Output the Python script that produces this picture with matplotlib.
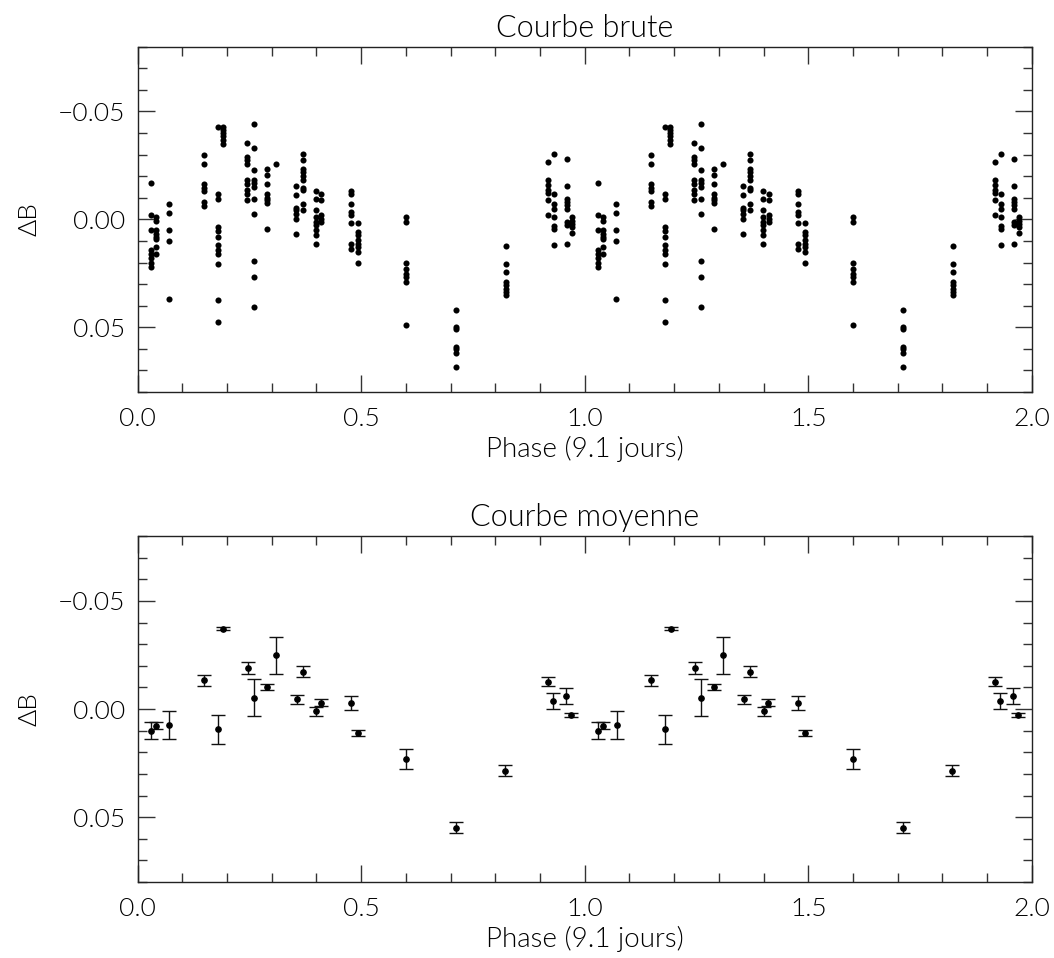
import numpy as np
import matplotlib
matplotlib.use("Agg")
import matplotlib.pyplot as plt
from matplotlib.ticker import MultipleLocator, FixedFormatter, FixedLocator

# ---------------- raw data (one phase cycle, repeated at +1) ----------------
raw_phase = [0.030, 0.040, 0.070, 0.149, 0.180, 0.190, 0.245, 0.261, 0.289, 0.309,
             0.355, 0.369, 0.399, 0.411, 0.478, 0.493, 0.600, 0.711, 0.823,
             0.917, 0.931, 0.960, 0.971]
raw_dB = [
    [-0.017, -0.002, 0.005, 0.014, 0.016, 0.018, 0.020, 0.022],
    [-0.001, 0.001, 0.005, 0.007, 0.008, 0.009, 0.013, 0.016],
    [-0.007, -0.003, 0.005, 0.010, 0.037],
    [-0.0296, -0.0258, -0.0165, -0.0147, -0.0131, -0.0080, -0.0060],
    [-0.0427, -0.0119, -0.0096, 0.0036, 0.0054, 0.0082, 0.0120, 0.0140, 0.0162, 0.0208, 0.0372, 0.0475],
    [-0.0427, -0.0415, -0.0400, -0.0384, -0.0369, -0.0347],
    [-0.0355, -0.0289, -0.0273, -0.0258, -0.0181, -0.0165, -0.0134, -0.0119, -0.0091],
    [-0.0440, -0.0330, -0.0227, -0.0184, -0.0168, -0.0150, -0.0096, -0.0023, 0.0193, 0.0267, 0.0406],
    [-0.0235, -0.0204, -0.0165, -0.0116, -0.0100, -0.0088, -0.0076, 0.0043],
    [-0.0258],
    [-0.0153, -0.0111, -0.0052, -0.0042, -0.0026, 0.0000, 0.0069],
    [-0.0301, -0.0276, -0.0235, -0.0219, -0.0199, -0.0181, -0.0147, -0.0134, -0.0069, -0.0042],
    [-0.0130, -0.0096, -0.0042, -0.0011, 0.0012, 0.0028, 0.0048, 0.0074, 0.0113],
    [-0.0116, -0.0088, -0.0019, -0.0003, 0.0012],
    [-0.0131, -0.0116, -0.0069, -0.0034, -0.0019, 0.0015, 0.0113, 0.0136],
    [0.0015, 0.0059, 0.0074, 0.0094, 0.0113, 0.0128, 0.0151, 0.0202],
    [-0.0011, 0.0012, 0.0201, 0.0228, 0.0252, 0.0267, 0.0290, 0.0488],
    [0.0418, 0.0499, 0.0506, 0.0591, 0.0603, 0.0619, 0.0684],
    [0.0125, 0.0205, 0.0245, 0.0290, 0.0306, 0.0321, 0.0337, 0.0352],
    [-0.0265, -0.0184, -0.0157, -0.0137, -0.0122, -0.0088, -0.0019],
    [-0.0301, -0.0116, -0.0073, -0.0050, -0.0011, 0.0032, 0.0043, 0.0117],
    [-0.0278, -0.0153, -0.0096, -0.0080, -0.0065, -0.0050, 0.0012, 0.0028, 0.0113],
    [-0.0011, 0.0008, 0.0023, 0.0036, 0.0063],
]

# ---------------- mean curve ----------------
mean_phase = [0.030, 0.040, 0.071, 0.149, 0.180, 0.192, 0.247, 0.261, 0.290, 0.309,
              0.357, 0.369, 0.400, 0.410, 0.478, 0.493, 0.600, 0.711, 0.822,
              0.917, 0.929, 0.957, 0.970]
mean_dB = [0.0100, 0.0077, 0.0074, -0.0133, 0.0094, -0.0372, -0.0188, -0.0052, -0.0102, -0.0248,
           -0.0045, -0.0173, 0.0011, -0.0029, -0.0028, 0.0110, 0.0231, 0.0548, 0.0286,
           -0.0127, -0.0037, -0.0059, 0.0028]
mean_err = [0.0039, 0.0017, 0.0066, 0.0026, 0.0067, 0.0008, 0.0028, 0.0086, 0.0015, 0.0086,
            0.0022, 0.0027, 0.0021, 0.0017, 0.0031, 0.0015, 0.0046, 0.0025, 0.0025,
            0.0020, 0.0035, 0.0036, 0.0011]

titles = ["Courbe brute", "Courbe moyenne"]
xlabel = "Phase (9.1 jours)"
ylabel = "ΔB"

# flatten raw columns and repeat the cycle
px = np.concatenate([[p] * len(v) for p, v in zip(raw_phase, raw_dB)])
py = np.concatenate(raw_dB)
px = np.concatenate([px, px + 1.0])
py = np.concatenate([py, py])

mx = np.array(mean_phase)
mx = np.concatenate([mx, mx + 1.0])
my = np.concatenate([mean_dB, mean_dB])
me = np.concatenate([mean_err, mean_err])

plt.rcParams['font.family'] = ['Lato', 'DejaVu Sans']
plt.rcParams['font.weight'] = 300
plt.rcParams['axes.titleweight'] = 300
plt.rcParams['axes.labelweight'] = 300
fig = plt.figure(figsize=(10.54, 9.58), dpi=100)
ax1 = fig.add_axes([0.1306, 0.5908, 0.8484, 0.3605])
ax2 = fig.add_axes([0.1306, 0.0793, 0.8484, 0.3612])

ax1.plot(px, py, 'o', color='black', markersize=4.4, markeredgewidth=0)
ax2.errorbar(mx, my, yerr=me, fmt='o', color='black', markersize=3.8,
             markeredgewidth=1.0, ecolor='#111111', elinewidth=1.0, capsize=5, capthick=1.0)

for ax, t in zip([ax1, ax2], titles):
    ax.set_xlim(0, 2.0)
    ax.set_ylim(0.08, -0.08)
    ax.xaxis.set_major_locator(FixedLocator([0.0, 0.5, 1.0, 1.5, 2.0]))
    ax.xaxis.set_major_formatter(FixedFormatter(["0.0", "0.5", "1.0", "1.5", "2.0"]))
    ax.xaxis.set_minor_locator(MultipleLocator(0.1))
    ax.yaxis.set_major_locator(FixedLocator([-0.05, 0.0, 0.05]))
    ax.yaxis.set_major_formatter(FixedFormatter(["\u22120.05", "0.00", "0.05"]))
    ax.yaxis.set_minor_locator(MultipleLocator(0.01))
    ax.tick_params(which='both', direction='in', top=True, right=True, width=1.0,
                   color='#333333', labelsize=19)
    ax.tick_params(axis='x', pad=11)
    ax.tick_params(axis='y', pad=9)
    ax.tick_params(which='major', length=12.5)
    ax.tick_params(which='minor', length=6.5)
    for s in ax.spines.values():
        s.set_linewidth(1.0)
        s.set_color('#222222')
    ax.set_title(t, fontsize=22, pad=7)
    ax.set_xlabel(xlabel, fontsize=20, labelpad=3)
    ax.set_ylabel(ylabel, fontsize=19, labelpad=12)

fig.savefig("out.png", dpi=100)
